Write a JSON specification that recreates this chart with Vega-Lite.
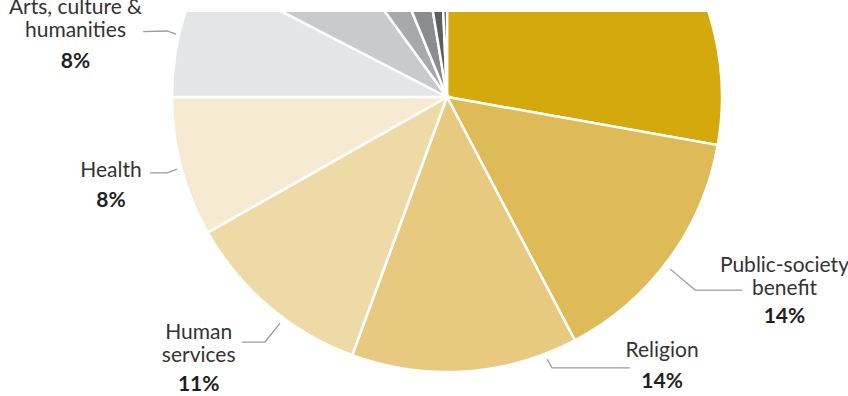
{
  "$schema": "https://vega.github.io/schema/vega-lite/v6.json",
  "width": 848,
  "height": 384,
  "padding": {"top": 12, "left": 0, "right": 0, "bottom": 0},
  "autosize": {"type": "none"},
  "background": "white",
  "config": {"view": {"stroke": null}, "font": "Lato"},
  "datasets": {
    "slices": [
      {"order": 1, "category": "Education", "share": 27.8},
      {"order": 2, "category": "Public-society benefit", "share": 14.5},
      {"order": 3, "category": "Religion", "share": 13.3},
      {"order": 4, "category": "Human services", "share": 11.2},
      {"order": 5, "category": "Health", "share": 8.2},
      {"order": 6, "category": "Arts, culture & humanities", "share": 7.6},
      {"order": 7, "category": "International affairs", "share": 7.4},
      {"order": 8, "category": "Environment/animals", "share": 3.8},
      {"order": 9, "category": "Gifts to foundations", "share": 3.6},
      {"order": 10, "category": "Gifts to individuals", "share": 1.9},
      {"order": 11, "category": "Unallocated", "share": 0.7}
    ],
    "labels": [
      {"name": "Arts, culture &\nhumanities", "pct": "8%", "x": -1.351, "yName": 0.302, "yPct": 0.104},
      {"name": "Health", "pct": "8%", "x": -1.222, "yName": -0.291, "yPct": -0.4},
      {"name": "Human\nservices", "pct": "11%", "x": -0.903, "yName": -0.881, "yPct": -1.068},
      {"name": "Religion", "pct": "14%", "x": 0.782, "yName": -0.947, "yPct": -1.059},
      {"name": "Public-society\nbenefit", "pct": "14%", "x": 1.227, "yName": -0.635, "yPct": -0.822}
    ],
    "leaders": [
      {"label": "Arts", "seq": 1, "x": -1.105, "y": 0.238},
      {"label": "Arts", "seq": 2, "x": -1.018, "y": 0.24},
      {"label": "Arts", "seq": 3, "x": -0.985, "y": 0.229},
      {"label": "Health", "seq": 1, "x": -1.08, "y": -0.276},
      {"label": "Health", "seq": 2, "x": -1.018, "y": -0.276},
      {"label": "Health", "seq": 3, "x": -0.982, "y": -0.262},
      {"label": "Human services", "seq": 1, "x": -0.745, "y": -0.891},
      {"label": "Human services", "seq": 2, "x": -0.662, "y": -0.891},
      {"label": "Human services", "seq": 3, "x": -0.607, "y": -0.822},
      {"label": "Religion", "seq": 1, "x": 0.364, "y": -0.953},
      {"label": "Religion", "seq": 2, "x": 0.382, "y": -0.985},
      {"label": "Religion", "seq": 3, "x": 0.665, "y": -0.985},
      {"label": "Public-society benefit", "seq": 1, "x": 0.811, "y": -0.625},
      {"label": "Public-society benefit", "seq": 2, "x": 0.902, "y": -0.702},
      {"label": "Public-society benefit", "seq": 3, "x": 1.073, "y": -0.702}
    ]
  },
  "layer": [
    {
      "data": {"name": "slices"},
      "mark": {"type": "arc", "radius": 275, "stroke": "white", "strokeWidth": 2.5, "clip": true},
      "encoding": {
        "theta": {"field": "share", "type": "quantitative", "stack": true},
        "order": {"field": "order", "type": "quantitative"},
        "color": {
          "field": "category",
          "type": "nominal",
          "legend": null,
          "scale": {
            "domain": ["Education", "Public-society benefit", "Religion", "Human services", "Health", "Arts, culture & humanities", "International affairs", "Environment/animals", "Gifts to foundations", "Gifts to individuals", "Unallocated"],
            "range": ["#d4a90b", "#dfbb57", "#e7ca80", "#eedaa6", "#f6ead2", "#e4e5e7", "#c9cacc", "#a8a9ab", "#8b8c8e", "#5d5e61", "#47484b"]
          }
        },
        "x": {"datum": 0, "type": "quantitative", "scale": {"domain": [-1.625455, 1.458182], "nice": false, "zero": false}, "axis": null},
        "y": {"datum": 0, "type": "quantitative", "scale": {"domain": [-1.087273, 0.309091], "nice": false, "zero": false}, "axis": null}
      }
    },
    {
      "data": {"name": "leaders"},
      "mark": {"type": "line", "color": "#9b9b9b", "strokeWidth": 1.3, "clip": false},
      "encoding": {
        "x": {"field": "x", "type": "quantitative"},
        "y": {"field": "y", "type": "quantitative"},
        "detail": {"field": "label"},
        "order": {"field": "seq", "type": "quantitative"}
      }
    },
    {
      "data": {"name": "labels"},
      "mark": {"type": "text", "align": "center", "baseline": "alphabetic", "lineBreak": "\n", "lineHeight": 23, "fontSize": 21, "color": "#333333", "clip": false},
      "encoding": {
        "x": {"field": "x", "type": "quantitative"},
        "y": {"field": "yName", "type": "quantitative"},
        "text": {"field": "name"}
      }
    },
    {
      "data": {"name": "labels"},
      "mark": {"type": "text", "align": "center", "baseline": "alphabetic", "fontSize": 21, "fontWeight": "bold", "color": "#1f1f1f", "clip": false},
      "encoding": {
        "x": {"field": "x", "type": "quantitative"},
        "y": {"field": "yPct", "type": "quantitative"},
        "text": {"field": "pct"}
      }
    }
  ]
}
